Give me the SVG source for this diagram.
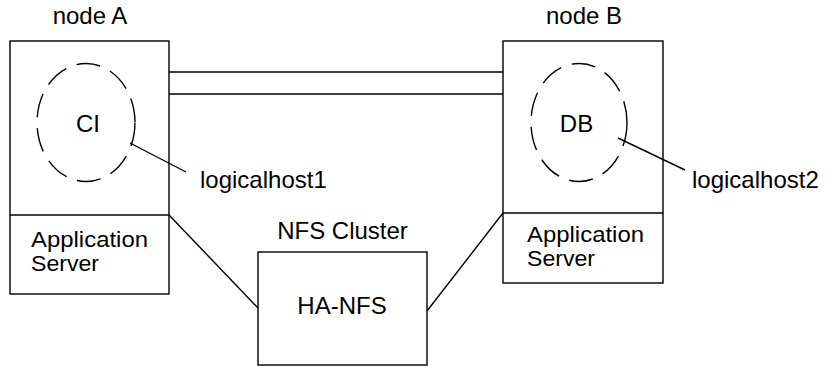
<svg xmlns="http://www.w3.org/2000/svg" width="826" height="367" viewBox="0 0 826 367">
  <style>
    .box { fill: #fff; stroke: #000; stroke-width: 1.4; }
    .line { fill: none; stroke: #000; stroke-width: 1.4; }
    .host { fill: none; stroke: #000; stroke-width: 1.4; stroke-dasharray: 24 11; }
    text { font-family: "Liberation Sans", Arial, sans-serif; font-size: 24px; fill: #000; }
    .role { font-size: 21.5px; }
  </style>
  <rect width="826" height="367" fill="#fff"/>

  <g id="nodeA">
    <text x="90" y="24" text-anchor="middle">node A</text>
    <rect class="box" x="10" y="41" width="159" height="253"/>
    <line class="line" x1="10" y1="215" x2="169" y2="215"/>
    <text class="role" x="31" y="247" textLength="117" lengthAdjust="spacingAndGlyphs">Application</text>
    <text class="role" x="31" y="271" textLength="68" lengthAdjust="spacingAndGlyphs">Server</text>
  </g>

  <g id="logicalhost1">
    <ellipse class="host" cx="86" cy="122.5" rx="49" ry="59"/>
    <text x="88" y="132" text-anchor="middle">CI</text>
    <text x="200" y="188">logicalhost1</text>
  </g>

  <g id="nodeB">
    <text x="584" y="24" text-anchor="middle">node B</text>
    <rect class="box" x="503" y="41" width="160" height="242"/>
    <line class="line" x1="503" y1="213" x2="663" y2="213"/>
    <text class="role" x="527" y="242" textLength="117" lengthAdjust="spacingAndGlyphs">Application</text>
    <text class="role" x="527" y="266" textLength="68" lengthAdjust="spacingAndGlyphs">Server</text>
  </g>

  <g id="logicalhost2">
    <ellipse class="host" cx="579" cy="122.5" rx="48" ry="59"/>
    <text x="576.5" y="132" text-anchor="middle">DB</text>
    <text x="692" y="188">logicalhost2</text>
  </g>

  <g id="nfsCluster">
    <text x="342.5" y="239" text-anchor="middle">NFS Cluster</text>
    <rect class="box" x="258" y="252" width="169" height="113"/>
    <text x="342" y="314" text-anchor="middle">HA-NFS</text>
  </g>

  <!-- links between the nodes, drawn over the boxes -->
  <g id="connectors">
    <line class="line" x1="169" y1="72" x2="503" y2="72"/>
    <line class="line" x1="169" y1="94" x2="503" y2="94"/>
    <line class="line" x1="169" y1="215" x2="258" y2="308"/>
    <line class="line" x1="427" y1="311" x2="503" y2="213"/>
    <line class="line" x1="130" y1="143" x2="186" y2="172"/>
    <line class="line" x1="618" y1="138" x2="685" y2="170"/>
  </g>
</svg>
